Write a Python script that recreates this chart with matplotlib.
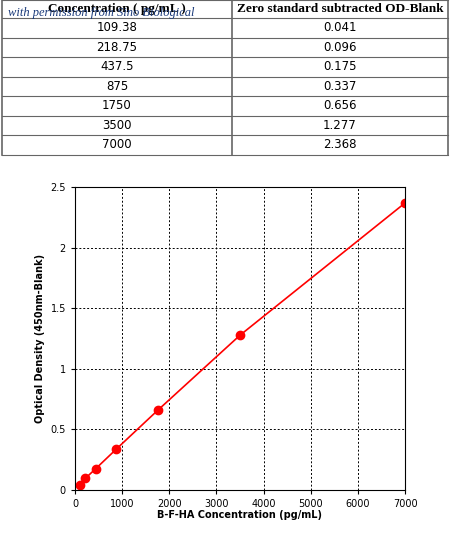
import matplotlib.pyplot as plt
import numpy as np

conc = [109.38, 218.75, 437.5, 875, 1750, 3500, 7000]
conc_labels = ["109.38", "218.75", "437.5", "875", "1750", "3500", "7000"]
od = [0.041, 0.096, 0.175, 0.337, 0.656, 1.277, 2.368]
od_labels = ["0.041", "0.096", "0.175", "0.337", "0.656", "1.277", "2.368"]
headers = ["Concentration ( pg/mL )", "Zero standard subtracted OD-Blank"]

W, H = 450, 534
fig = plt.figure(figsize=(4.5, 5.34), dpi=100)

# table drawn in pixel coords on an overlay axes
tab = fig.add_axes([0, 0, 1, 1])
tab.set_xlim(0, W)
tab.set_ylim(H, 0)
tab.axis("off")
x0, xm, x1 = 2, 232, 448
row_y = [0, 18] + [18 + 19.5 * (i + 1) for i in range(len(conc))]
for y in row_y:
    tab.plot([x0, x1], [y, y], color="#666666", lw=0.8)
for x in (x0, xm, x1):
    tab.plot([x, x], [row_y[0], row_y[-1]], color="#666666", lw=1.2)
tab.text((x0 + xm) / 2, 9, headers[0], ha="center", va="center",
         family="Liberation Serif", weight="bold", fontsize=9.5)
tab.text((xm + x1) / 2, 9, headers[1], ha="center", va="center",
         family="Liberation Serif", weight="bold", fontsize=9.5)
tab.text(8, 13, "with permission from Sino Biological", ha="left", va="center",
         family="Liberation Serif", style="italic", fontsize=9, color="#1a3a7a")
for i in range(len(conc)):
    yc = (row_y[i + 1] + row_y[i + 2]) / 2
    tab.text((x0 + xm) / 2, yc, conc_labels[i], ha="center", va="center",
             family="DejaVu Sans", fontsize=8.5)
    tab.text((xm + x1) / 2, yc, od_labels[i], ha="center", va="center",
             family="DejaVu Sans", fontsize=8.5)

ax = fig.add_axes([75 / W, 44 / H, 330 / W, 303 / H])
ax.plot(conc, od, color="red", lw=1.2, marker="o", markersize=6)
ax.set_xlim(0, 7000)
ax.set_ylim(0, 2.5)
ax.set_xticks(np.arange(0, 7001, 1000))
ax.set_yticks([0, 0.5, 1, 1.5, 2, 2.5])
ax.set_yticklabels(["0", "0.5", "1", "1.5", "2", "2.5"])
ax.grid(True, color="black", ls=(0, (2, 2)), lw=0.7)
ax.tick_params(labelsize=7, length=3)
ax.set_xlabel("B-F-HA Concentration (pg/mL)", fontsize=7, weight="bold", labelpad=1)
ax.set_ylabel("Optical Density (450nm-Blank)", fontsize=7, weight="bold", labelpad=4)
for s in ax.spines.values():
    s.set_linewidth(0.8)

fig.savefig("out.png", dpi=100)
